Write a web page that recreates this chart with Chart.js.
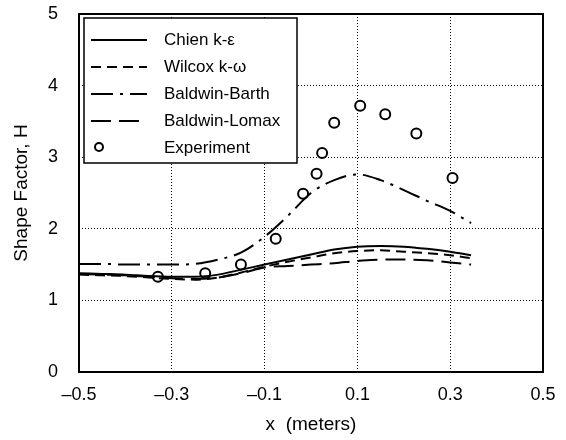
<!DOCTYPE html>
<html>
<head>
<meta charset="utf-8">
<script src="https://cdn.jsdelivr.net/npm/chart.js@4/dist/chart.umd.min.js"></script>
<style>
  html, body { margin: 0; padding: 0; background: #fff; }
  #wrap { width: 566px; height: 440px; }
</style>
</head>
<body>
<div id="wrap"><canvas id="c" width="566" height="440"></canvas></div>
<script>
// ---- data ----
const modelX = [-0.5, -0.45, -0.4, -0.35, -0.3, -0.25, -0.2, -0.15, -0.1, -0.05, 0, 0.05, 0.1, 0.15, 0.2, 0.25, 0.3, 0.345];
const chienH = [1.38, 1.37, 1.36, 1.34, 1.33, 1.33, 1.36, 1.43, 1.50, 1.57, 1.64, 1.71, 1.75, 1.76, 1.75, 1.72, 1.68, 1.63];
const wilcoxH = [1.36, 1.35, 1.34, 1.32, 1.30, 1.29, 1.32, 1.39, 1.47, 1.54, 1.60, 1.66, 1.69, 1.70, 1.68, 1.66, 1.63, 1.59];
const barthH = [1.51, 1.51, 1.50, 1.50, 1.50, 1.51, 1.57, 1.67, 1.89, 2.18, 2.50, 2.68, 2.76, 2.68, 2.54, 2.39, 2.25, 2.08];
const lomaxH = [1.37, 1.36, 1.35, 1.33, 1.31, 1.30, 1.32, 1.38, 1.46, 1.48, 1.50, 1.52, 1.55, 1.57, 1.57, 1.56, 1.53, 1.50];
const expX = [-0.330, -0.228, -0.151, -0.076, -0.017, 0.012, 0.024, 0.050, 0.106, 0.160, 0.227, 0.305];
const expH = [1.33, 1.38, 1.50, 1.86, 2.49, 2.77, 3.06, 3.48, 3.72, 3.60, 3.33, 2.71];
const seriesNames = ['Chien k-\u03b5', 'Wilcox k-\u03c9', 'Baldwin-Barth', 'Baldwin-Lomax', 'Experiment'];
const xTicks = [-0.5, -0.3, -0.1, 0.1, 0.3, 0.5];
const yTicks = [0, 1, 2, 3, 4, 5];

const pts = (xs, ys) => xs.map((x, i) => ({ x: x, y: ys[i] }));
const FONT = '"Liberation Sans", Arial, Helvetica, sans-serif';

const lineDs = (label, ys, dash) => ({
  label: label,
  data: pts(modelX, ys),
  showLine: true,
  borderColor: '#000',
  borderWidth: 2,
  borderDash: dash,
  pointRadius: 0,
  fill: false,
  tension: 0.4,
  cubicInterpolationMode: 'monotone'
});

const legendPlugin = {
  id: 'boxLegend',
  afterDatasetsDraw(chart) {
    const ctx = chart.ctx;
    const a = chart.chartArea;
    const bx = a.left + 5, by = a.top + 4, bw = 213, bh = 145;
    ctx.save();
    ctx.fillStyle = '#fff';
    ctx.fillRect(bx, by, bw, bh);
    ctx.strokeStyle = '#000';
    ctx.lineWidth = 1.5;
    ctx.strokeRect(bx, by, bw, bh);
    ctx.font = '17px ' + FONT;
    ctx.textBaseline = 'middle';
    ctx.fillStyle = '#000';
    chart.data.datasets.forEach((ds, i) => {
      const y = by + 22 + i * 27;
      if (ds.showLine) {
        ctx.beginPath();
        ctx.setLineDash(ds.borderDash || []);
        ctx.lineWidth = ds.borderWidth;
        ctx.moveTo(bx + 7, y);
        ctx.lineTo(bx + 63, y);
        ctx.stroke();
        ctx.setLineDash([]);
      } else {
        ctx.beginPath();
        ctx.lineWidth = 2;
        ctx.arc(bx + 15, y - 1, 4, 0, Math.PI * 2);
        ctx.fillStyle = '#fff';
        ctx.fill();
        ctx.stroke();
        ctx.fillStyle = '#000';
      }
      ctx.fillText(ds.label, bx + 80, y);
    });
    ctx.restore();
  }
};

const framePlugin = {
  id: 'frame',
  afterDatasetsDraw(chart) {
    const a = chart.chartArea;
    const ctx = chart.ctx;
    ctx.save();
    ctx.strokeStyle = '#000';
    ctx.lineWidth = 2;
    ctx.strokeRect(a.left, a.top, a.right - a.left, a.bottom - a.top);
    ctx.restore();
  }
};

const whiteBg = {
  id: 'whiteBg',
  beforeDraw(chart) {
    const ctx = chart.ctx;
    ctx.save();
    ctx.fillStyle = '#fff';
    ctx.fillRect(0, 0, chart.width, chart.height);
    ctx.restore();
  }
};

new Chart(document.getElementById('c'), {
  type: 'scatter',
  data: {
    datasets: [
      lineDs(seriesNames[0], chienH, []),
      lineDs(seriesNames[1], wilcoxH, [10, 6]),
      lineDs(seriesNames[2], barthH, [22, 7, 3, 7]),
      lineDs(seriesNames[3], lomaxH, [20, 8]),
      {
        label: seriesNames[4],
        data: pts(expX, expH),
        showLine: false,
        pointRadius: 5,
        pointBorderWidth: 2,
        pointBorderColor: '#000',
        pointBackgroundColor: '#fff',
        borderColor: '#000',
        backgroundColor: '#fff'
      }
    ]
  },
  options: {
    responsive: false,
    animation: false,
    devicePixelRatio: 1,
    layout: { padding: { top: 14, right: 23, left: 0, bottom: 0 } },
    plugins: { legend: { display: false }, tooltip: { enabled: false } },
    scales: {
      x: {
        type: 'linear',
        min: -0.5, max: 0.5,
        afterBuildTicks: (s) => { s.ticks = xTicks.map(v => ({ value: v })); },
        afterFit: (s) => { s.height = 68; s.paddingLeft = 0; s.paddingRight = 0; },
        grid: { color: '#000', lineWidth: 1, drawTicks: false },
        border: { display: false, dash: [1, 2] },
        ticks: {
          color: '#000',
          font: { family: FONT, size: 18 },
          padding: 12,
          maxRotation: 0,
          callback: (v) => (v < 0 ? '\u2013' : '') + Math.abs(v).toFixed(1)
        },
        title: {
          display: true,
          text: 'x  (meters)',
          color: '#000',
          font: { family: FONT, size: 19 },
          padding: { top: 0, bottom: 4 }
        }
      },
      y: {
        type: 'linear',
        min: 0, max: 5,
        afterBuildTicks: (s) => { s.ticks = yTicks.map(v => ({ value: v })); },
        afterFit: (s) => { s.width = 79; s.paddingTop = 0; s.paddingBottom = 0; },
        grid: { color: '#000', lineWidth: 1, drawTicks: false },
        border: { display: false, dash: [1, 2] },
        ticks: {
          color: '#000',
          font: { family: FONT, size: 18 },
          padding: 21,
          callback: (v) => String(v)
        },
        title: {
          display: true,
          text: 'Shape Factor, H',
          color: '#000',
          font: { family: FONT, size: 19 },
          padding: { top: 10, bottom: 0 }
        }
      }
    }
  },
  plugins: [whiteBg, framePlugin, legendPlugin]
});
</script>
</body>
</html>
